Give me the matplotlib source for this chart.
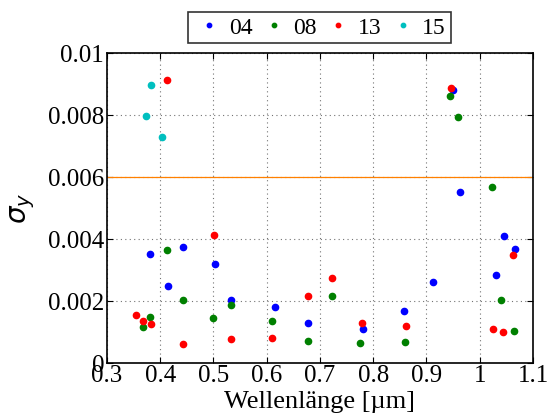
import matplotlib
matplotlib.use("Agg")
import matplotlib.pyplot as plt

plt.rcParams["font.family"] = ["Liberation Serif", "DejaVu Serif"]
plt.rcParams["mathtext.fontset"] = "dejavusans"

# wavelength [um] and sigma_y per sample
x04 = [0.381, 0.415, 0.443, 0.502, 0.533, 0.615, 0.677, 0.781, 0.858, 0.912,
       0.949, 0.962, 1.030, 1.046, 1.067]
y04 = [0.00354, 0.00249, 0.00375, 0.00321, 0.00205, 0.00181, 0.00129, 0.00110,
       0.00170, 0.00261, 0.00882, 0.00553, 0.00285, 0.00410, 0.00368]

x08 = [0.368, 0.381, 0.413, 0.443, 0.500, 0.533, 0.610, 0.677, 0.722, 0.776,
       0.860, 0.945, 0.960, 1.023, 1.039, 1.065]
y08 = [0.00118, 0.00149, 0.00366, 0.00204, 0.00147, 0.00187, 0.00136, 0.00073,
       0.00216, 0.00064, 0.00068, 0.00863, 0.00794, 0.00568, 0.00205, 0.00105]

x13 = [0.354, 0.368, 0.382, 0.413, 0.443, 0.501, 0.533, 0.610, 0.677, 0.722,
       0.779, 0.861, 0.946, 1.024, 1.044, 1.062]
y13 = [0.00157, 0.00137, 0.00128, 0.00914, 0.00062, 0.00414, 0.00077, 0.00082,
       0.00216, 0.00276, 0.00131, 0.00120, 0.00887, 0.00110, 0.00102, 0.00350]

x15 = [0.373, 0.382, 0.403]
y15 = [0.00799, 0.00898, 0.00731]

threshold = 0.006

fig = plt.figure(figsize=(5.47, 4.16), dpi=100)
ax = fig.add_axes([0.1956, 0.1267, 0.7788, 0.7452])

ax.plot(x04, y04, ".", color=(0, 0, 1), ms=9, label="04", zorder=3)
ax.plot(x08, y08, ".", color=(0, 0.5, 0), ms=9, label="08", zorder=3)
ax.plot(x13, y13, ".", color=(1, 0, 0), ms=9, label="13", zorder=3)
ax.plot(x15, y15, ".", color=(0, 0.75, 0.75), ms=9, label="15", zorder=3)
ax.axhline(threshold, color=(1, 0.5, 0), lw=0.9, zorder=2)

ax.set_xlim(0.3, 1.1)
ax.set_ylim(0, 0.01)
ax.set_xticks([0.3, 0.4, 0.5, 0.6, 0.7, 0.8, 0.9, 1.0, 1.1])
ax.set_xticklabels(["0.3", "0.4", "0.5", "0.6", "0.7", "0.8", "0.9", "1", "1.1"])
ax.set_yticks([0, 0.002, 0.004, 0.006, 0.008, 0.01])
ax.set_yticklabels(["0", "0.002", "0.004", "0.006", "0.008", "0.01"])
ax.tick_params(direction="in", top=True, right=True, labelsize=18, length=4, pad=2)
ax.tick_params(axis="x", pad=1)
ax.grid(True, linestyle=(0, (1, 3)), color="0.45", lw=0.8)
for s in ax.spines.values():
    s.set_linewidth(1.2)

ax.set_xlabel("Wellenlänge [µm]", fontsize=19, labelpad=3)
ax.set_ylabel(r"$\sigma_y$", fontsize=20, labelpad=8)

leg = ax.legend(loc="center", bbox_to_anchor=(0.584, 0.933), bbox_transform=fig.transFigure,
                ncol=4, fontsize=17, frameon=True, fancybox=False, markerscale=0.7,
                handlelength=1.4, handletextpad=0.13, columnspacing=0.2,
                borderpad=0.2, edgecolor="black")
leg.get_frame().set_linewidth(1.2)

fig.savefig("out.png", dpi=100)
